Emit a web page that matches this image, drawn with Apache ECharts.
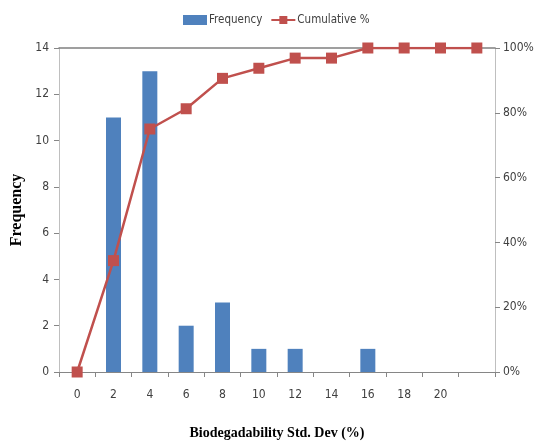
<!DOCTYPE html>
<html><head><meta charset="utf-8">
<script src="https://cdn.jsdelivr.net/npm/echarts@6/dist/echarts.min.js"></script>
<style>html,body{margin:0;padding:0;background:#fff}#c{width:542px;height:446px}</style>
</head><body><div id="c"></div>
<script>
const categories = ['0','2','4','6','8','10','12','14','16','18','20',''];
const frequency = [0, 11, 13, 2, 3, 1, 1, 0, 1, 0, 0, 0];
const cumulative = [0, 34.38, 75, 81.25, 90.63, 93.75, 96.88, 96.88, 100, 100, 100, 100];
const freqTicks = [0, 2, 4, 6, 8, 10, 12, 14];
const pctTicks = [0, 20, 40, 60, 80, 100];

const font = '"DejaVu Sans Condensed", "Liberation Sans Narrow", sans-serif';
const chart = echarts.init(document.getElementById('c'));
chart.setOption({
  animation: false,
  legend: {
    top: 9, left: 178, itemGap: 8, itemWidth: 24, itemHeight: 10,
    textStyle: {fontFamily: font, fontSize: 11.5, color: '#404040', padding: [0, 0, 0, -3]},
    data: [{name: 'Frequency', icon: 'rect'}, {name: 'Cumulative %'}]
  },
  grid: {left: 59, right: 47, top: 48, bottom: 74, outerBoundsMode: 'none', containLabel: false},
  xAxis: [{
    type: 'category', data: categories, position: 'bottom',
    name: 'Biodegadability Std. Dev (%)', nameLocation: 'middle', nameGap: 54,
    nameTextStyle: {fontFamily: '"Liberation Serif", serif', fontWeight: 'bold', fontSize: 14, color: '#000'},
    axisLine: {lineStyle: {color: '#868686'}},
    axisTick: {show: true, length: 5, lineStyle: {color: '#868686'}},
    axisLabel: {fontFamily: font, fontSize: 12, color: '#404040', margin: 17}
  }, {
    type: 'category', data: categories, position: 'top',
    axisLine: {show: true, onZero: false, lineStyle: {color: '#808080', width: 1.5}},
    axisTick: {show: false}, axisLabel: {show: false}
  }],
  yAxis: [{
    type: 'value', min: 0, max: 14, interval: 2,
    name: 'Frequency', nameLocation: 'middle', nameGap: 33, nameRotate: 90,
    nameTextStyle: {fontFamily: '"Liberation Serif", serif', fontWeight: 'bold', fontSize: 16, color: '#000'},
    axisLine: {show: true, lineStyle: {color: '#bfbfbf'}},
    axisTick: {show: true, length: 5, lineStyle: {color: '#868686'}},
    axisLabel: {fontFamily: font, fontSize: 12, color: '#404040', margin: 10},
    splitLine: {show: false}
  }, {
    type: 'value', min: 0, max: 100, interval: 20, position: 'right',
    axisLine: {show: true, lineStyle: {color: '#bfbfbf'}},
    axisTick: {show: true, length: 5, lineStyle: {color: '#868686'}},
    axisLabel: {fontFamily: font, fontSize: 12, color: '#404040', margin: 8, formatter: '{value}%'},
    splitLine: {show: false}
  }],
  series: [{
    name: 'Frequency', type: 'bar', data: frequency, barWidth: 15,
    itemStyle: {color: '#4F81BD'}
  }, {
    name: 'Cumulative %', type: 'line', yAxisIndex: 1, data: cumulative,
    symbol: 'rect', symbolSize: 11,
    lineStyle: {color: '#C0504D', width: 2.5},
    itemStyle: {color: '#C0504D'}
  }]
});
</script></body></html>
